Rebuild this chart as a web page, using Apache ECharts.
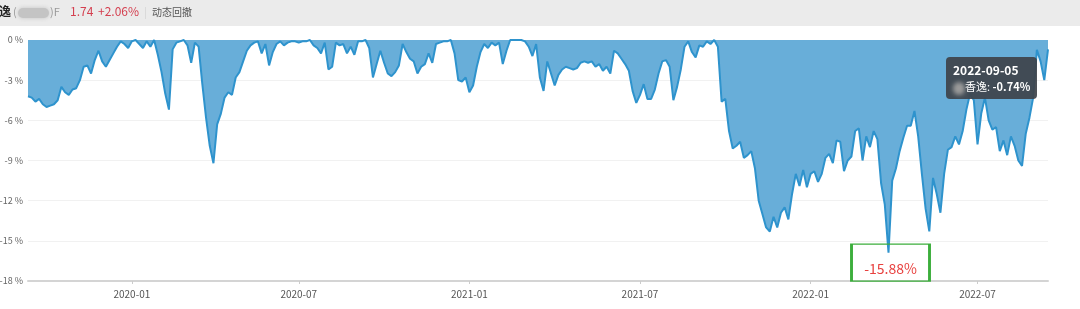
<!DOCTYPE html>
<html>
<head>
<meta charset="utf-8">
<script src="https://cdn.jsdelivr.net/npm/echarts@6/dist/echarts.min.js"></script>
<style>
html,body{margin:0;padding:0;background:#fff;}
#chart{width:1080px;height:309px;}
</style>
</head>
<body>
<div id="chart"></div>
<script>
// ---- data ----
const startDate = '2019-09-13';   // first category
const stepDays = 4;               // spacing of categories
// drawdown values in %
const drawdown = [
 -4.2,-4.3,-4.6,-4.4,-4.8,-5.0,-4.9,-4.8,-4.5,-3.5,
 -3.9,-4.1,-3.7,-3.6,-3.0,-2.0,-1.9,-2.5,-1.5,-0.8,
 -1.6,-2.0,-1.5,-1.0,-0.5,-0.1,-0.3,-0.6,-0.1,0,
 -0.3,-0.6,-0.1,-0.5,0,-1.1,-2.4,-4.0,-5.2,-0.7,
 -0.2,-0.1,0,-0.4,-1.7,-0.2,-0.5,-3.3,-5.8,-7.9,
 -9.2,-6.3,-5.5,-4.3,-3.9,-4.1,-2.8,-2.4,-1.6,-0.8,
 -0.4,-0.2,-0.1,-1.0,-0.3,-1.9,-0.9,-0.3,-0.1,-0.4,
 -0.2,-0.1,-0.1,-0.2,-0.1,-0.1,0,-0.4,-0.6,-1.0,
 -0.2,-2.2,-2.0,-0.2,-0.4,-0.3,-1.0,-0.5,-1.1,-0.1,
 -0.1,0,-0.6,-2.8,-1.8,-0.8,-1.7,-2.5,-2.7,-2.4,
 -1.9,-0.3,-0.9,-1.4,-1.6,-2.5,-2.0,-1.8,-1.0,-1.7,
 -0.3,-0.2,-0.1,-0.1,0,-1.0,-3.0,-3.1,-2.8,-3.9,
 -3.4,-2.0,-0.9,-0.3,-0.6,-0.2,-0.4,-0.2,-1.8,-0.8,
 0,0,0,0,-0.1,-0.5,-1.2,-0.3,-2.8,-3.8,
 -1.6,-2.5,-3.4,-2.6,-2.2,-2.0,-2.1,-2.2,-2.1,-1.7,
 -1.6,-1.7,-1.6,-2.0,-1.8,-2.3,-2.0,-2.5,-0.8,-1.0,
 -1.4,-1.8,-2.3,-3.8,-4.7,-4.1,-3.3,-4.4,-4.4,-3.7,
 -2.5,-1.6,-1.5,-2.0,-4.5,-3.5,-2.2,-0.5,-0.1,-0.9,
 -1.3,-0.4,-0.5,-0.1,-0.3,0,-0.5,-4.6,-4.4,-6.8,
 -8.1,-7.9,-7.6,-8.8,-8.6,-8.3,-9.6,-12.0,-13.0,-14.0,
 -14.3,-13.2,-14.0,-12.9,-12.5,-13.4,-11.5,-10.0,-10.9,-9.7,
 -11.0,-10.0,-9.8,-10.6,-10.0,-8.8,-8.5,-9.2,-7.5,-7.6,
 -9.8,-9.0,-8.7,-6.8,-6.6,-9.0,-7.2,-8.0,-6.8,-7.4,
 -10.7,-12.3,-15.88,-10.5,-9.6,-8.3,-7.3,-6.4,-6.4,-5.3,
 -7.2,-10.0,-12.6,-14.3,-10.3,-11.5,-12.9,-10.0,-8.2,-8.0,
 -7.2,-7.8,-6.8,-5.2,-4.0,-4.5,-7.8,-5.5,-4.3,-6.0,
 -6.7,-6.5,-8.3,-7.5,-8.6,-7.2,-7.9,-9.0,-9.4,-7.0,
 -5.8,-4.3,-0.74,-1.6,-3.0,-0.7
];
const yTicks = [0, -3, -6, -9, -12, -15, -18];
const fundName = '香逸';
const headerPrice = '1.74';
const headerChange = '+2.06%';
const headerTitle = '动态回撤';
const tipDate = '2022-09-05';

// categories built from start date
const dates = [];
(function(){
  const d0 = new Date(startDate + 'T00:00:00Z');
  for (let i = 0; i < drawdown.length; i++) {
    const d = new Date(d0.getTime() + i * stepDays * 86400000);
    dates.push(d.toISOString().slice(0, 10));
  }
})();
const tipIndex = dates.indexOf(tipDate);

function halfYearStart(idx, val) {
  if (idx === 0) return false;
  const m = val.slice(5, 7);
  const pm = dates[idx - 1].slice(5, 7);
  return (m === '01' || m === '07') && m !== pm;
}

const FONT = '"Noto Sans CJK SC", "Noto Sans", sans-serif';
const FONT_SQ = FONT.replace(/"/g, "'");
const chart = echarts.init(document.getElementById('chart'));
chart.setOption({
  animation: false,
  textStyle: { fontFamily: FONT },
  grid: { left: 28, right: 32, top: 40, bottom: 28, containLabel: false, outerBoundsMode: 'none' },
  graphic: [
    { type: 'rect', shape: { x: 0, y: 0, width: 1080, height: 26 }, style: { fill: '#ebebeb' }, z: -10 },
    { type: 'text', x: -1, y: 5, style: { text: '逸', font: 'bold 12px ' + FONT, fill: '#222' } },
    { type: 'text', x: 13, y: 6, style: { text: '(', font: '11px ' + FONT, fill: '#999' } },
    { type: 'rect', shape: { x: 18, y: 8, width: 31, height: 10, r: 5 }, style: { fill: '#c4c4c4', shadowBlur: 4, shadowColor: '#c4c4c4' } },
    { type: 'text', x: 50, y: 6, style: { text: ')F', font: '11px ' + FONT, fill: '#999' } },
    { type: 'text', x: 70, y: 5, style: { text: headerPrice, font: '12px ' + FONT, fill: '#d43f4f' } },
    { type: 'text', x: 98, y: 5, style: { text: headerChange, font: '12px ' + FONT, fill: '#d43f4f' } },
    { type: 'rect', shape: { x: 145, y: 7, width: 1, height: 12 }, style: { fill: '#dadada' } },
    { type: 'text', x: 152, y: 7, style: { text: headerTitle, font: '10px ' + FONT, fill: '#555' } }
  ],
  tooltip: {
    trigger: 'axis',
    alwaysShowContent: true,
    transitionDuration: 0,
    axisPointer: { type: 'none' },
    backgroundColor: 'rgba(62,68,74,0.93)',
    borderWidth: 0,
    padding: [4, 7],
    extraCssText: 'border-radius:4px;box-shadow:none;',
    position: function (pt, params, dom, rect, size) {
      return [pt[0] - size.contentSize[0], pt[1] + 7];
    },
    formatter: function (params) {
      const p = params[0];
      return '<div style="font:bold 12px ' + FONT_SQ + ';color:#fff;line-height:17px">' + p.name + '</div>' +
        '<div style="font:11px ' + FONT_SQ + ';color:#fff;line-height:17px">' +
        '<span style="display:inline-block;width:12px;height:13px;border-radius:6px;background:#9a9a9a;filter:blur(2px);vertical-align:middle;margin-right:0px"></span>' +
        fundName + ': <b>' + p.value.toFixed(2) + '%</b></div>';
    }
  },
  xAxis: {
    type: 'category',
    data: dates,
    boundaryGap: false,
    axisLine: { onZero: false, lineStyle: { color: '#d4d4d4', width: 2 } },
    axisTick: { show: true, interval: halfYearStart, length: 3, lineStyle: { color: '#ccc' } },
    axisLabel: {
      interval: halfYearStart,
      formatter: function (v) { return v.slice(0, 7); },
      color: '#555', fontSize: 10, margin: 8
    },
    splitLine: { show: false }
  },
  yAxis: {
    type: 'value',
    min: yTicks[yTicks.length - 1],
    max: yTicks[0],
    interval: 3,
    axisLine: { show: false },
    axisTick: { show: false },
    axisLabel: { formatter: function (v) { return v + ' %'; }, color: '#666', fontSize: 9, margin: 5 },
    splitLine: { lineStyle: { color: '#f1f1f1', width: 1 } }
  },
  series: [{
    type: 'line',
    data: drawdown,
    showSymbol: false,
    symbol: 'none',
    lineStyle: { color: '#2a86bb', width: 2 },
    itemStyle: { color: '#2a86bb' },
    areaStyle: { color: '#5f9fc6', opacity: 1 },
    markPoint: {
      symbol: 'rect',
      symbolSize: [78, 37],
      symbolOffset: [2, 10],
      itemStyle: { color: 'rgba(255,255,255,0)', borderColor: '#3cae3c', borderWidth: 2 },
      label: {
        show: true, position: 'inside', color: '#e8413f', fontSize: 14, offset: [0, 6],
        formatter: function (p) { return p.value.toFixed(2) + '%'; }
      },
      data: [{ type: 'min' }]
    }
  }]
});
chart.dispatchAction({ type: 'showTip', seriesIndex: 0, dataIndex: tipIndex });
</script>
</body>
</html>
